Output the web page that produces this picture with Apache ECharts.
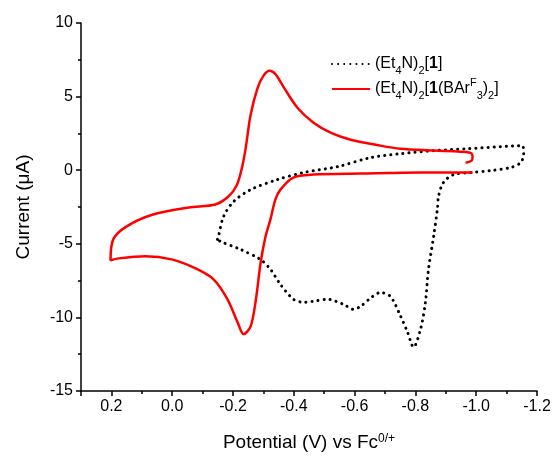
<!DOCTYPE html>
<html>
<head>
<meta charset="utf-8">
<script src="https://cdn.jsdelivr.net/npm/echarts@6/dist/echarts.min.js"></script>
<style>
  html, body { margin: 0; padding: 0; background: #fff; }
  #chart { width: 555px; height: 457px; }
</style>
</head>
<body>
<div id="chart"></div>
<script>
// (Et4N)2[1] - dotted black loop
var potBlack = [-0.149, -0.152, -0.169, -0.202, -0.258, -0.346, -0.432, -0.544, -0.652, -0.751, -0.860, -0.972, -1.080, -1.152,
                -1.156, -1.146, -1.113, -1.047, -0.982, -0.925, -0.892, -0.876, -0.873, -0.860, -0.843, -0.833, -0.817, -0.794,
                -0.774, -0.751, -0.718, -0.685, -0.659, -0.619, -0.596, -0.563, -0.511, -0.465, -0.432, -0.399, -0.356, -0.323,
                -0.290, -0.224, -0.159, -0.149];
var curBlack = [-4.70, -4.50, -3.14, -2.13, -1.32, -0.64, -0.16, 0.24, 0.85, 1.12, 1.33, 1.46, 1.60, 1.67,
                1.06, 0.51, 0.18, -0.03, -0.16, -0.30, -0.84, -1.78, -2.53, -4.50, -6.73, -8.98, -10.80, -12.02,
                -11.0, -9.9, -8.58, -8.31, -8.58, -9.26, -9.45, -9.11, -8.77, -8.90, -8.97, -8.77, -7.76, -6.73,
                -6.06, -5.38, -4.84, -4.70];

// (Et4N)2[1(BArF3)2] - red loop
var potRed = [-0.965, -0.985, -0.988, -0.981, -0.860, -0.751, -0.685, -0.587, -0.521, -0.465, -0.412, -0.366, -0.339, -0.320,
              -0.300, -0.281, -0.258, -0.241, -0.228, -0.212, -0.185, -0.142, -0.055, 0.063, 0.151, 0.194, 0.203,
              0.176, 0.089, 0.002, -0.077, -0.136, -0.182, -0.215, -0.235, -0.258, -0.274, -0.291, -0.307, -0.323,
              -0.339, -0.356, -0.398, -0.464, -0.619, -0.817, -0.988];
var curRed = [0.51, 0.65, 0.92, 1.19, 1.33, 1.46, 1.67, 2.07, 2.55, 3.22, 4.24, 5.66, 6.54, 6.75,
              6.41, 5.60, 3.77, 1.40, 0.04, -1.04, -1.79, -2.33, -2.53, -3.01, -3.83, -4.70, -6.12,
              -5.99, -5.85, -6.06, -6.67, -7.41, -8.77, -10.33, -11.15, -10.61, -8.98, -6.27, -4.51, -3.36,
              -2.01, -1.32, -0.50, -0.30, -0.23, -0.16, -0.16];

function pairs(xs, ys) {
    var out = [];
    for (var i = 0; i < xs.length; i++) out.push([xs[i], ys[i]]);
    return out;
}

var chart = echarts.init(document.getElementById('chart'));
var font = 'Liberation Sans, Arial, sans-serif';

chart.setOption({
    animation: false,
    textStyle: { fontFamily: font },
    grid: { left: 81, right: 18, top: 23, bottom: 65 },
    legend: {
        orient: 'vertical',
        left: 326,
        top: 47,
        itemWidth: 38,
        itemHeight: 14,
        itemGap: 1,
        itemStyle: { opacity: 0 },
        data: ['black', 'red'],
        formatter: function (name) {
            if (name === 'black') return '(Et{s|4}N){s|2}[{b|1}]';
            return '(Et{s|4}N){s|2}[{b|1}(BAr{p|F}{s|3}){s|2}]';
        },
        textStyle: {
            fontFamily: font, fontSize: 16, color: '#000', lineHeight: 24,
            rich: {
                s: { fontFamily: font, fontSize: 11, verticalAlign: 'bottom', lineHeight: 13, color: '#000' },
                p: { fontFamily: font, fontSize: 11, verticalAlign: 'top', lineHeight: 13, color: '#000' },
                b: { fontFamily: font, fontSize: 16, fontWeight: 'bold', lineHeight: 24, color: '#000' }
            }
        }
    },
    xAxis: {
        type: 'value',
        min: -1.2,
        max: 0.3,
        interval: 0.2,
        inverse: true,
        name: 'Potential (V) vs Fc{p|0/+}',
        nameLocation: 'middle',
        nameGap: 42,
        nameTextStyle: {
            fontFamily: font, fontSize: 19, color: '#000',
            rich: { p: { fontFamily: font, fontSize: 12, verticalAlign: 'top', lineHeight: 13, color: '#000' } }
        },
        axisLine: { onZero: false, lineStyle: { color: '#000', width: 1.5 } },
        axisTick: { length: 5, lineStyle: { width: 1.5 } },
        minorTick: { show: true, splitNumber: 2, length: 3, lineStyle: { color: '#000', width: 1.5 } },
        splitLine: { show: false },
        axisLabel: {
            color: '#000', fontSize: 16, margin: 8, showMaxLabel: false,
            formatter: function (v) { return v.toFixed(1); }
        }
    },
    yAxis: {
        type: 'value',
        min: -15,
        max: 10,
        interval: 5,
        name: 'Current (\u03bcA)',
        nameLocation: 'middle',
        nameGap: 48,
        nameTextStyle: { fontFamily: font, fontSize: 19, color: '#000' },
        axisLine: { show: true, onZero: false, lineStyle: { color: '#000', width: 1.5 } },
        axisTick: { show: true, length: 5, lineStyle: { width: 1.5 } },
        minorTick: { show: true, splitNumber: 2, length: 3, lineStyle: { color: '#000', width: 1.5 } },
        splitLine: { show: false },
        axisLabel: { color: '#000', fontSize: 16, margin: 8 }
    },
    series: [
        {
            name: 'black',
            type: 'line',
            data: pairs(potBlack, curBlack),
            smooth: 0.3,
            symbol: 'none',
            lineStyle: { color: '#000', width: 3, type: [0.1, 6], cap: 'round' },
            itemStyle: { color: '#000' }
        },
        {
            name: 'red',
            type: 'line',
            data: pairs(potRed, curRed),
            smooth: 0.3,
            symbol: 'none',
            lineStyle: { color: '#ff0000', width: 2.5 },
            itemStyle: { color: '#ff0000' }
        }
    ]
});
</script>
</body>
</html>
